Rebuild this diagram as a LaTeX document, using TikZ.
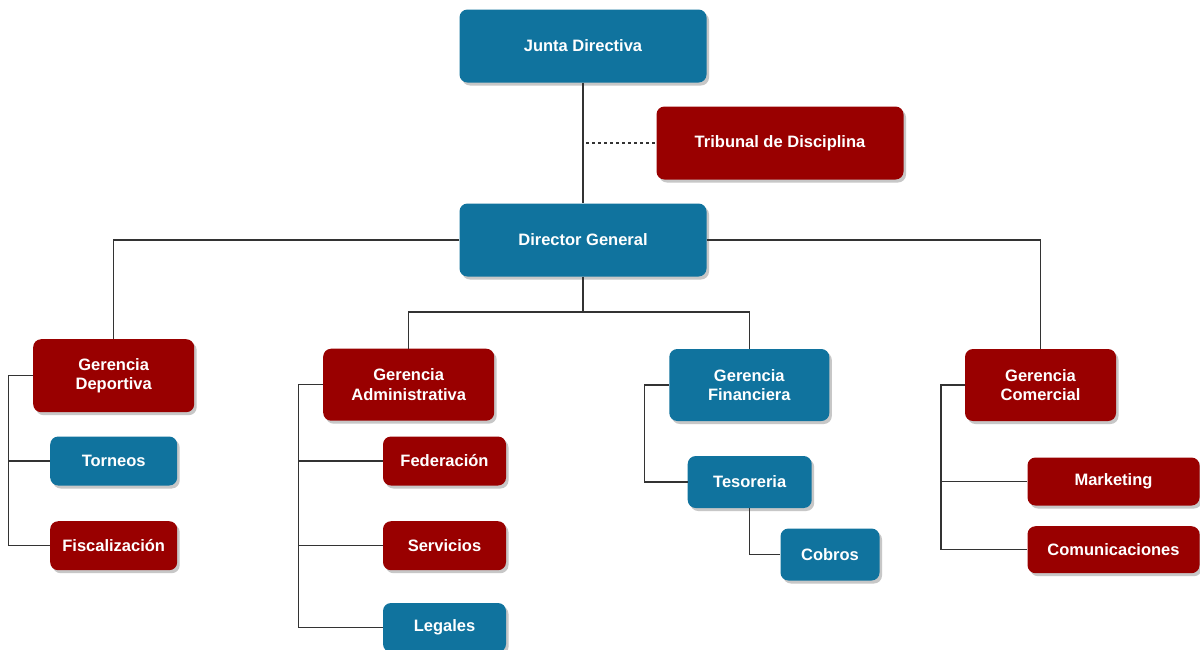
\documentclass[tikz,border=0pt]{standalone}
\usepackage{fontspec}
\setmainfont{Liberation Sans}
\usetikzlibrary{shadows}
\definecolor{boxblue}{HTML}{10739E}
\definecolor{boxred}{HTML}{990000}
\tikzset{
  orgbox/.style={draw=none, rounded corners=8pt, text=white, align=center,
    font=\fontsize{16.5}{19.5}\selectfont\bfseries, inner sep=0pt,
    drop shadow={shadow xshift=2.5pt, shadow yshift=-3pt, fill=black!22, opacity=1}},
  bluebox/.style={orgbox, fill=boxblue},
  redbox/.style={orgbox, fill=boxred},
  link/.style={draw=black!80, line width=1.2pt},
  dlink/.style={draw=black!80, line width=1.2pt, dash pattern=on 3pt off 3pt}
}
\begin{document}
\begin{tikzpicture}[x=1pt, y=-1pt]
\useasboundingbox[fill=white] (0,0) rectangle (1200,649);

\node[bluebox, minimum width=247pt, minimum height=73pt] (jd) at (583,46) {Junta Directiva};
\node[redbox, minimum width=247pt, minimum height=73pt] (td) at (780,143) {Tribunal de Disciplina};
\node[bluebox, minimum width=247pt, minimum height=73pt] (dg) at (583,240) {Director General};

\node[redbox, minimum width=161pt, minimum height=73pt] (gd) at (113.7,375.7) {Gerencia\\Deportiva};
\node[redbox, minimum width=171pt, minimum height=72pt] (ga) at (408.7,384.7) {Gerencia\\Administrativa};
\node[bluebox, minimum width=160pt, minimum height=72pt] (gf) at (749.3,385) {Gerencia\\Financiera};
\node[redbox, minimum width=151pt, minimum height=72pt] (gc) at (1040.5,385) {Gerencia\\Comercial};

\node[bluebox, minimum width=127pt, minimum height=49pt] (tor) at (113.7,461) {Torneos};
\node[redbox, minimum width=127pt, minimum height=49pt] (fis) at (113.7,545.7) {Fiscalización};

\node[redbox, minimum width=123pt, minimum height=49pt] (fed) at (444.5,461) {Federación};
\node[redbox, minimum width=123pt, minimum height=49pt] (ser) at (444.5,545.7) {Servicios};
\node[bluebox, minimum width=123pt, minimum height=49pt] (leg) at (444.5,627.5) {Legales};

\node[bluebox, minimum width=124pt, minimum height=52pt] (tes) at (749.7,482) {Tesoreria};
\node[bluebox, minimum width=99pt, minimum height=52pt] (cob) at (830,554.5) {Cobros};

\node[redbox, minimum width=172pt, minimum height=48pt] (mkt) at (1113.5,481.5) {Marketing};
\node[redbox, minimum width=172pt, minimum height=47pt] (com) at (1113.5,549.7) {Comunicaciones};

% connectors
\coordinate (tdj) at (586,143);
\coordinate (mid) at (583,312);
\coordinate (sgd) at (8.3,375.7);
\coordinate (sga) at (298.3,384.7);
\coordinate (sgf) at (644.3,385);
\coordinate (sgc) at (941,385);

\begin{scope}[on background layer/.style={}]
\draw[link] (jd.south) -- (dg.north);
\draw[dlink] (tdj) -- (td.west);
\draw[link] (dg.west) -| (gd.north);
\draw[link] (dg.east) -| (gc.north);
\draw[link] (dg.south) -- (mid) -| (ga.north);
\draw[link] (mid) -| (gf.north);

\draw[link] (gd.west) -- (sgd) |- (fis.west);
\draw[link] (sgd) |- (tor.west);

\draw[link] (ga.west) -- (sga) |- (leg.west);
\draw[link] (sga) |- (fed.west);
\draw[link] (sga) |- (ser.west);

\draw[link] (gf.west) -- (sgf) |- (tes.west);
\draw[link] (tes.south) |- (cob.west);

\draw[link] (gc.west) -- (sgc) |- (com.west);
\draw[link] (sgc) |- (mkt.west);
\end{scope}
\end{tikzpicture}
\end{document}
